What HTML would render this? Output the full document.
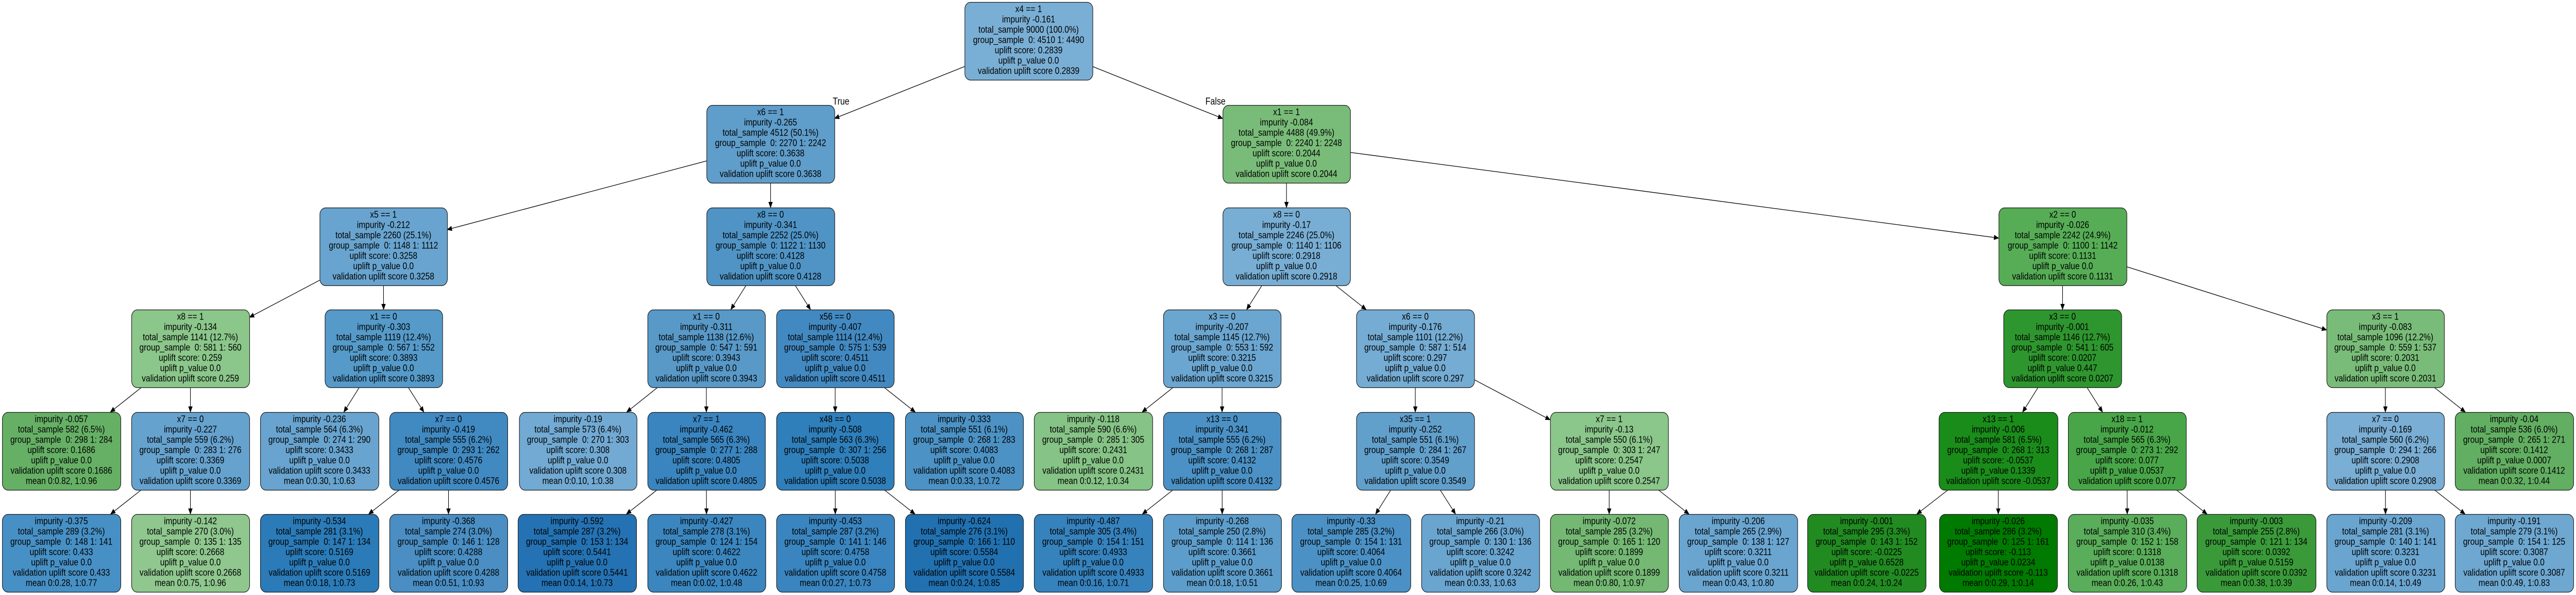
<!DOCTYPE html>
<html><head><meta charset="utf-8">
<style>
html,body{margin:0;padding:0;background:#fff;overflow:hidden;width:100%;height:100%;}
svg{display:block;width:100vw;height:100vh;}
text{font-family:"Liberation Sans",Arial,sans-serif;font-size:18.5px;fill:#000;white-space:pre;}
</style></head>
<body>
<svg id="s" viewBox="0 0 5939 1155" preserveAspectRatio="none" xmlns="http://www.w3.org/2000/svg">
<defs><marker id="ah" markerWidth="12" markerHeight="10" refX="11" refY="5" orient="auto" markerUnits="userSpaceOnUse"><path d="M0,0 L12,5 L0,10 z" fill="#000"/></marker></defs>
<g id="edges"></g><g id="nodes"></g>
<text x="1920" y="203" style="font-size:19px">True</text>
<text x="2779" y="203" style="font-size:19px">False</text>
</svg>
<script>
var TOPS=[4,204,403,601,800,998],H=151;
function I(c,imp,ts,g0,g1,us,pv,vs){return [c,"impurity "+imp,"total_sample "+ts,"group_sample  0: "+g0+" 1: "+g1,"uplift score: "+us,"uplift p_value "+pv,"validation uplift score "+vs];}
function L(imp,ts,g0,g1,us,pv,vs,m){return ["impurity "+imp,"total_sample "+ts,"group_sample  0: "+g0+" 1: "+g1,"uplift score: "+us,"uplift p_value "+pv,"validation uplift score "+vs,"mean "+m];}
var N={
root:[2224,2519,0,"#7aafd5",I("x4 == 1","-0.161","9000 (100.0%)",4510,4490,"0.2839","0.0","0.2839")],
A:[1629,1924,1,"#5f9dca",I("x6 == 1","-0.265","4512 (50.1%)",2270,2242,"0.3638","0.0","0.3638")],
B:[2819,3113,1,"#79bc79",I("x1 == 1","-0.084","4488 (49.9%)",2240,2248,"0.2044","0.0","0.2044")],
C:[737,1031,2,"#68a4cf",I("x5 == 1","-0.212","2260 (25.1%)",1148,1112,"0.3258","0.0","0.3258")],
D:[1629,1924,2,"#5094c6",I("x8 == 0","-0.341","2252 (25.0%)",1122,1130,"0.4128","0.0","0.4128")],
E:[2819,3113,2,"#78aed4",I("x8 == 0","-0.17","2246 (25.0%)",1140,1106,"0.2918","0.0","0.2918")],
F:[4608,4903,2,"#56ad56",I("x2 == 0","-0.026","2242 (24.9%)",1100,1142,"0.1131","0.0","0.1131")],
G:[303,575,3,"#8bc68b",I("x8 == 1","-0.134","1141 (12.7%)",581,560,"0.259","0.0","0.259")],
Hn:[749,1020,3,"#559ac9",I("x1 == 0","-0.303","1119 (12.4%)",567,552,"0.3893","0.0","0.3893")],
In:[1493,1764,3,"#5899c8",I("x1 == 0","-0.311","1138 (12.6%)",547,591,"0.3943","0.0","0.3943")],
J:[1790,2061,3,"#4389c1",I("x56 == 0","-0.407","1114 (12.4%)",575,539,"0.4511","0.0","0.4511")],
K:[2682,2953,3,"#6ba6d0",I("x3 == 0","-0.207","1145 (12.7%)",553,592,"0.3215","0.0","0.3215")],
Ln:[3127,3399,3,"#75acd3",I("x6 == 0","-0.176","1101 (12.2%)",587,514,"0.297","0.0","0.297")],
M:[4619,4891,3,"#2e962e",I("x3 == 0","-0.001","1146 (12.7%)",541,605,"0.0207","0.447","0.0207")],
Nn:[5364,5635,3,"#79bc79",I("x3 == 1","-0.083","1096 (12.2%)",559,537,"0.2031","0.0","0.2031")],
O:[5,278,4,"#66b066",L("-0.057","582 (6.5%)",298,284,"0.1686","0.0","0.1686","0:0.82, 1:0.96")],
P:[303,575,4,"#66a2ce",I("x7 == 0","-0.227","559 (6.2%)",283,276,"0.3369","0.0","0.3369")],
Q:[600,873,4,"#68a4cf",L("-0.236","564 (6.3%)",274,290,"0.3433","0.0","0.3433","0:0.30, 1:0.63")],
R:[898,1170,4,"#4189c1",I("x7 == 0","-0.419","555 (6.2%)",293,262,"0.4576","0.0","0.4576")],
S:[1197,1468,4,"#72aad3",L("-0.19","573 (6.4%)",270,303,"0.308","0.0","0.308","0:0.10, 1:0.38")],
T:[1493,1764,4,"#3a85bf",I("x7 == 1","-0.462","565 (6.3%)",277,288,"0.4805","0.0","0.4805")],
U:[1790,2061,4,"#2f7fbb",I("x48 == 0","-0.508","563 (6.3%)",307,256,"0.5038","0.0","0.5038")],
V:[2087,2359,4,"#4c92c5",L("-0.333","551 (6.1%)",268,283,"0.4083","0.0","0.4083","0:0.33, 1:0.72")],
W:[2384,2657,4,"#86c386",L("-0.118","590 (6.6%)",285,305,"0.2431","0.0","0.2431","0:0.12, 1:0.34")],
X:[2682,2953,4,"#4b91c5",I("x13 == 0","-0.341","555 (6.2%)",268,287,"0.4132","0.0","0.4132")],
Y:[3127,3399,4,"#62a0cc",I("x35 == 1","-0.252","551 (6.1%)",284,267,"0.3549","0.0","0.3549")],
Z:[3574,3846,4,"#8bc68b",I("x7 == 1","-0.13","550 (6.1%)",303,247,"0.2547","0.0","0.2547")],
AA:[4470,4744,4,"#1a8c1a",I("x13 == 1","-0.006","581 (6.5%)",268,313,"-0.0537","0.1339","-0.0537")],
AB:[4768,5040,4,"#48a648",I("x18 == 1","-0.012","565 (6.3%)",273,292,"0.077","0.0537","0.077")],
AC:[5364,5635,4,"#7aaed4",I("x7 == 0","-0.169","560 (6.2%)",294,266,"0.2908","0.0","0.2908")],
AD:[5660,5933,4,"#62ae62",L("-0.04","536 (6.0%)",265,271,"0.1412","0.0007","0.1412","0:0.32, 1:0.44")],
l1:[5,278,5,"#4790c5",L("-0.375","289 (3.2%)",148,141,"0.433","0.0","0.433","0:0.28, 1:0.77")],
l2:[303,575,5,"#8fc78f",L("-0.142","270 (3.0%)",135,135,"0.2668","0.0","0.2668","0:0.75, 1:0.96")],
l3:[600,873,5,"#2b7bb8",L("-0.534","281 (3.1%)",147,134,"0.5169","0.0","0.5169","0:0.18, 1:0.73")],
l4:[898,1170,5,"#4a8ec3",L("-0.368","274 (3.0%)",146,128,"0.4288","0.0","0.4288","0:0.51, 1:0.93")],
l5:[1194,1467,5,"#2472b3",L("-0.592","287 (3.2%)",153,134,"0.5441","0.0","0.5441","0:0.14, 1:0.73")],
l6:[1493,1765,5,"#3b86bf",L("-0.427","278 (3.1%)",124,154,"0.4622","0.0","0.4622","0:0.02, 1:0.48")],
l7:[1790,2062,5,"#3a85bf",L("-0.453","287 (3.2%)",141,146,"0.4758","0.0","0.4758","0:0.27, 1:0.73")],
l8:[2087,2359,5,"#2171b1",L("-0.624","276 (3.1%)",166,110,"0.5584","0.0","0.5584","0:0.24, 1:0.85")],
l9:[2384,2657,5,"#3682bd",L("-0.487","305 (3.4%)",154,151,"0.4933","0.0","0.4933","0:0.16, 1:0.71")],
l10:[2682,2954,5,"#5d9dcb",L("-0.268","250 (2.8%)",114,136,"0.3661","0.0","0.3661","0:0.18, 1:0.51")],
l11:[2978,3252,5,"#4b91c5",L("-0.33","285 (3.2%)",154,131,"0.4064","0.0","0.4064","0:0.25, 1:0.69")],
l12:[3277,3549,5,"#6aa5d0",L("-0.21","266 (3.0%)",130,136,"0.3242","0.0","0.3242","0:0.33, 1:0.63")],
l13:[3574,3846,5,"#74b874",L("-0.072","285 (3.2%)",165,120,"0.1899","0.0","0.1899","0:0.80, 1:0.97")],
l14:[3871,4144,5,"#6aa5d0",L("-0.206","265 (2.9%)",138,127,"0.3211","0.0","0.3211","0:0.43, 1:0.80")],
l15:[4167,4440,5,"#218b21",L("-0.001","295 (3.3%)",143,152,"-0.0225","0.6528","-0.0225","0:0.24, 1:0.24")],
l16:[4471,4743,5,"#007a00",L("-0.026","286 (3.2%)",125,161,"-0.113","0.0234","-0.113","0:0.29, 1:0.14")],
l17:[4768,5041,5,"#5aad5a",L("-0.035","310 (3.4%)",152,158,"0.1318","0.0138","0.1318","0:0.26, 1:0.43")],
l18:[5065,5339,5,"#3a9a3a",L("-0.003","255 (2.8%)",121,134,"0.0392","0.5159","0.0392","0:0.38, 1:0.39")],
l19:[5364,5636,5,"#6aa5d0",L("-0.209","281 (3.1%)",140,141,"0.3231","0.0","0.3231","0:0.14, 1:0.49")],
l20:[5660,5933,5,"#6ea8d1",L("-0.191","279 (3.1%)",154,125,"0.3087","0.0","0.3087","0:0.49, 1:0.83")]
};
var E=[["root","A"],["root","B"],["A","C"],["A","D"],["C","G"],["C","Hn"],["G","O"],["G","P"],["P","l1"],["P","l2"],["Hn","Q"],["Hn","R"],["R","l3"],["R","l4"],
["D","In"],["D","J"],["In","S"],["In","T"],["T","l5"],["T","l6"],["J","U"],["J","V"],["U","l7"],["U","l8"],
["B","E"],["B","F"],["E","K"],["E","Ln"],["K","W"],["K","X"],["X","l9"],["X","l10"],["Ln","Y"],["Ln","Z"],["Y","l11"],["Y","l12"],["Z","l13"],["Z","l14"],
["F","M"],["F","Nn"],["M","AA"],["M","AB"],["AA","l15"],["AA","l16"],["AB","l17"],["AB","l18"],["Nn","AC"],["Nn","AD"],["AC","l19"],["AC","l20"]];
var NS="http://www.w3.org/2000/svg";
function el(t,a,p){var e=document.createElementNS(NS,t);for(var k in a)e.setAttribute(k,a[k]);p.appendChild(e);return e;}
var gn=document.getElementById("nodes"),ge=document.getElementById("edges");
function box(n){var d=N[n];var t=TOPS[d[2]];return {x1:d[0],x2:d[1],y1:t,y2:t+H,cx:(d[0]+d[1])/2,cy:t+H/2};}
for(var k in N){var d=N[k],b=box(k);
 el("rect",{x:b.x1+0.5,y:b.y1+0.5,width:b.x2-b.x1,height:H,rx:13,ry:13,fill:d[3],stroke:"#1a1a1a","stroke-width":1.3},gn);
 for(var i=0;i<d[4].length;i++){var t=el("text",{x:b.cx,y:b.y1+19.5+20*i,"text-anchor":"middle"},gn);t.textContent=d[4][i];}
}
function clip(b,dx,dy){var hw=(b.x2-b.x1)/2,hh=H/2;var s=Math.min(dx?hw/Math.abs(dx):1e9,dy?hh/Math.abs(dy):1e9);return [b.cx+dx*s,b.cy+dy*s];}
E.forEach(function(e){var p=box(e[0]),c=box(e[1]);var dx=c.cx-p.cx,dy=c.cy-p.cy;
 var a=clip(p,dx,dy),z=clip(c,-dx,-dy);
 el("line",{x1:a[0],y1:a[1],x2:z[0],y2:z[1],stroke:"#000","stroke-width":1.3,"marker-end":"url(#ah)"},ge);});
</script>
</body></html>
